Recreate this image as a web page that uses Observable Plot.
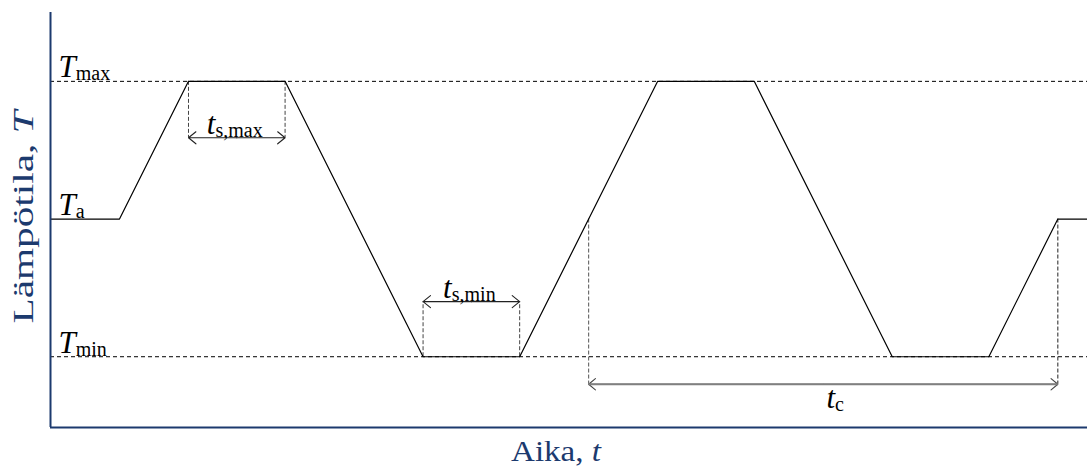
<!DOCTYPE html>
<html>
<head>
<meta charset="utf-8">
<script src="https://cdn.jsdelivr.net/npm/d3@7"></script>
<script src="https://cdn.jsdelivr.net/npm/@observablehq/plot@0.6"></script>
<style>
  body { margin: 0; background: #fff; }
</style>
</head>
<body>
<div id="chart"></div>
<script>
// Temperature levels of the cycle (schematic units: T_min = 0, T_a = 1, T_max = 2)
const levelNames = ["T_max", "T_a", "T_min"];
const levelValues = [2, 1, 0];

// Temperature profile: time (arbitrary units) and level at each corner
const profileTime = [0, 5, 10, 17, 27, 34, 44, 51, 61, 68, 73, 75.15];
const profileLevel = [1, 1, 2, 2, 0, 0, 2, 2, 0, 0, 1, 1];

// Dwell times at the extremes
const dwellNames = ["t_s,max", "t_s,min"];
const dwellStart = [10, 27];
const dwellEnd = [17, 34];
const dwellLevel = [2, 0];
const dwellArrowLevel = [1.59, 0.4];

// One full cycle, measured between two passes through T_a
const cycleName = "t_c";
const cycleStart = 39;
const cycleEnd = 73;
const cycleLevel = 1;
const cycleArrowLevel = -0.2;

// Axis titles ("|" switches to italic)
const xTitle = "Aika, |t";
const yTitle = "Lämpötila, |T";

const navy = "#1c3a6e";
const serif = "'Liberation Serif', 'Times New Roman', serif";

const profile = profileTime.map((t, i) => ({t, T: profileLevel[i]}));
const levels = levelNames.map((name, i) => ({name, T: levelValues[i]}));
const dwells = dwellNames.map((name, i) => ({
  name, start: dwellStart[i], end: dwellEnd[i], T: dwellLevel[i], arrow: dwellArrowLevel[i],
  mid: (dwellStart[i] + dwellEnd[i]) / 2
}));
const cycle = [{name: cycleName, start: cycleStart, end: cycleEnd, T: cycleLevel,
  arrow: cycleArrowLevel, mid: (cycleStart + cycleEnd) / 2}];

const labelFont = {fontFamily: serif, fill: "#000"};

const chart = Plot.plot({
  width: 1087,
  height: 466,
  marginLeft: 50,
  marginRight: 0,
  marginTop: 12,
  marginBottom: 39,
  x: {domain: [0, 75.15], axis: null},
  y: {domain: [-0.514, 2.5], axis: null},
  style: {fontFamily: serif, background: "#fff"},
  marks: [
    // reference lines at T_max and T_min
    Plot.ruleY([levelValues[0], levelValues[2]], {stroke: "#000", strokeWidth: 1, strokeDasharray: "4,3"}),

    // dwell markers
    Plot.ruleX(dwells, {x: "start", y1: "T", y2: "arrow", stroke: "#444", strokeWidth: 1, strokeDasharray: "4,2"}),
    Plot.ruleX(dwells, {x: "end", y1: "T", y2: "arrow", stroke: "#444", strokeWidth: 1, strokeDasharray: "4,2"}),
    Plot.arrow(dwells, {x1: "mid", x2: "start", y1: "arrow", y2: "arrow", stroke: "#222", strokeWidth: 1.1, headLength: 13, headAngle: 78}),
    Plot.arrow(dwells, {x1: "mid", x2: "end", y1: "arrow", y2: "arrow", stroke: "#222", strokeWidth: 1.1, headLength: 13, headAngle: 78}),
    Plot.text(dwells, {x: "mid", y: "arrow", text: "name", dy: -4, dx: -2, lineAnchor: "bottom", fontSize: 31, ...labelFont}),

    // cycle marker
    Plot.ruleX(cycle, {x: "start", y1: "T", y2: "arrow", stroke: "#555", strokeWidth: 1, strokeDasharray: "4,2"}),
    Plot.ruleX(cycle, {x: "end", y1: "T", y2: "arrow", stroke: "#222", strokeWidth: 1, strokeDasharray: "4,2"}),
    Plot.arrow(cycle, {x1: "mid", x2: "start", y1: "arrow", y2: "arrow", stroke: "#444", strokeWidth: 1.1, headLength: 12, headAngle: 80}),
    Plot.arrow(cycle, {x1: "mid", x2: "end", y1: "arrow", y2: "arrow", stroke: "#444", strokeWidth: 1.1, headLength: 12, headAngle: 80}),
    Plot.link(cycle, {x1: "start", x2: "end", y1: "arrow", y2: "arrow", stroke: "#808080", strokeWidth: 2, insetLeft: 1, insetRight: 1}),
    Plot.text(cycle, {x: "mid", y: "arrow", text: "name", dy: 24, dx: 12, lineAnchor: "bottom", fontSize: 31, ...labelFont}),

    // temperature profile
    Plot.line(profile, {x: "t", y: "T", stroke: "#000", strokeWidth: 1.2}),

    // level labels
    Plot.text(levels, {x: 0, y: "T", text: "name", dx: 8, dy: -4, textAnchor: "start", lineAnchor: "bottom", fontSize: 31, ...labelFont}),

    // axes
    Plot.ruleX([0], {stroke: navy, strokeWidth: 2}),
    Plot.ruleY([-0.514], {stroke: navy, strokeWidth: 2}),
    Plot.text([xTitle], {frameAnchor: "bottom", dy: 33, dx: -13, textAnchor: "middle", lineAnchor: "bottom", fontSize: 29, fontFamily: serif, fill: navy}),
    Plot.text([yTitle], {frameAnchor: "left", dx: -18, dy: -3, rotate: -90, textAnchor: "middle", lineAnchor: "bottom", fontSize: 30, fontFamily: serif, fill: navy})
  ]
});

document.getElementById("chart").appendChild(chart);

// Title widths along the text direction
const titleLength = new Map([[xTitle, 90], [yTitle, 213]]);

// Turn "X_sub" into italic X with a subscript, and "plain |italic" into two runs
d3.select(chart).selectAll("text").each(function () {
  const el = d3.select(this);
  const s = el.text();
  const size = parseFloat(el.attr("font-size")) || 30;
  if (s.includes("_")) {
    const [main, sub] = s.split("_");
    el.text(null);
    el.append("tspan").attr("font-style", "italic").text(main);
    el.append("tspan").attr("font-size", Math.round(size * 0.68)).attr("dy", 3).text(sub);
  } else if (s.includes("|")) {
    const [plain, ital] = s.split("|");
    el.text(null);
    el.append("tspan").text(plain);
    el.append("tspan").attr("font-style", "italic").text(ital);
    // widen the glyphs along the reading direction
    const natural = this.getComputedTextLength();
    const sx = titleLength.get(s) / natural;
    const g = this.parentNode;
    const host = this.hasAttribute("transform") ? this : g;
    const t = host.getAttribute("transform") || "";
    if (this.hasAttribute("transform")) {
      this.setAttribute("transform", `${t} scale(${sx},1)`);
    } else {
      const x = +this.getAttribute("x") || 0, y = +this.getAttribute("y") || 0;
      this.setAttribute("transform", `translate(${x},${y}) scale(${sx},1) translate(${-x},${-y})`);
    }
  }
});
</script>
</body>
</html>
